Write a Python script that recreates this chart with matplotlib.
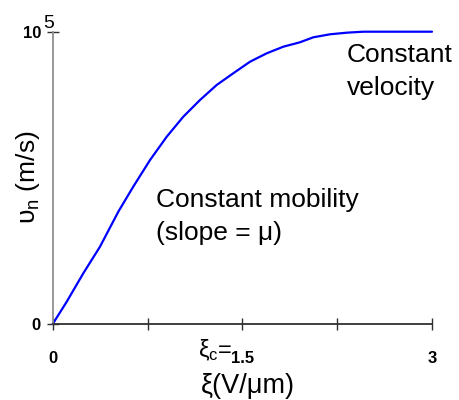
import matplotlib
matplotlib.use("Agg")
import matplotlib.pyplot as plt
from matplotlib.transforms import blended_transform_factory

plt.rcParams['font.family'] = ['Liberation Sans', 'DejaVu Sans']
plt.rcParams['mathtext.fontset'] = 'custom'
plt.rcParams['mathtext.rm'] = 'Liberation Sans'
plt.rcParams['mathtext.it'] = 'Liberation Sans:italic'

# Data
field = [0.0, 0.111, 0.242, 0.374, 0.519, 0.637, 0.770, 0.902, 1.033, 1.165, 1.297,
         1.428, 1.561, 1.693, 1.824, 1.955, 2.061, 2.193, 2.325, 2.457, 3.0]
velocity = [0.0, 0.0763e5, 0.1734e5, 0.2645e5, 0.3842e5, 0.4697e5, 0.5611e5, 0.6408e5,
            0.7092e5, 0.7663e5, 0.8177e5, 0.8577e5, 0.8974e5, 0.9261e5, 0.9487e5,
            0.9637e5, 0.9808e5, 0.9911e5, 0.9966e5, 1.0e5, 1.0e5]
x_ticks = [0, 0.75, 1.5, 2.25, 3]
x_tick_labels = ['0', '', '1.5', '', '3']
y_ticks = [0, 1e5]
y_tick_labels = ['0', '10']

W, H = 459, 400
fig = plt.figure(figsize=(W / 100, H / 100), dpi=100)
ax = fig.add_axes([52.7 / W, 1 - 324 / H, (432 - 52.7) / W, (324 - 31.7) / H])

ax.plot(field, velocity, color='#0000ff', lw=1.6, solid_capstyle='round',
        solid_joinstyle='round', clip_on=False)
ax.set_xlim(0, 3)
ax.set_ylim(0, 1e5)

for s in ['top', 'right']:
    ax.spines[s].set_visible(False)
ax.spines['left'].set_color('#909090')
ax.spines['left'].set_linewidth(1.3)
ax.spines['bottom'].set_color('#303030')
ax.spines['bottom'].set_linewidth(1.3)

narrow = ['Liberation Sans Narrow', 'Liberation Sans']
ax.set_xticks(x_ticks)
ax.set_xticklabels(x_tick_labels, fontfamily=narrow, fontweight='bold', fontsize=12)
ax.tick_params(axis='x', direction='inout', length=9, width=1.0, color='#303030', pad=15)
ax.set_yticks(y_ticks)
ax.set_yticklabels(y_tick_labels, fontfamily=narrow, fontweight='bold', fontsize=12)
ax.tick_params(axis='y', direction='inout', length=9, width=1.0, color='#303030', pad=4)

# superscript 5 on the 10^5 tick
ax.text(-0.025, 1.0e5, '5', transform=blended_transform_factory(ax.transAxes, ax.transData),
        fontsize=14, ha='left', va='bottom', fontfamily=narrow)

# xi_c = prefix before 1.5
fig.text(232 / W, 1 - 350 / H, r'$\mathrm{ξ}_\mathrm{c}$=', fontsize=17, ha='right', va='center')

fig.text(248 / W, 1 - 386 / H, 'ξ(V/μm)', fontsize=19.5, ha='center', va='center')
fig.text(27.5 / W, 1 - 177 / H, r'$\mathrm{υ}_\mathrm{n}$ (m/s)', fontsize=19,
         ha='center', va='center', rotation=90)

fig.text(156 / W, 1 - 200 / H, 'Constant mobility', fontsize=19, ha='left', va='center')
fig.text(156 / W, 1 - 233 / H, '(slope = μ)', fontsize=19, ha='left', va='center')
fig.text(347 / W, 1 - 55 / H, 'Constant', fontsize=19, ha='left', va='center')
fig.text(347 / W, 1 - 88 / H, 'velocity', fontsize=19, ha='left', va='center')

fig.savefig('out.png', dpi=100)
